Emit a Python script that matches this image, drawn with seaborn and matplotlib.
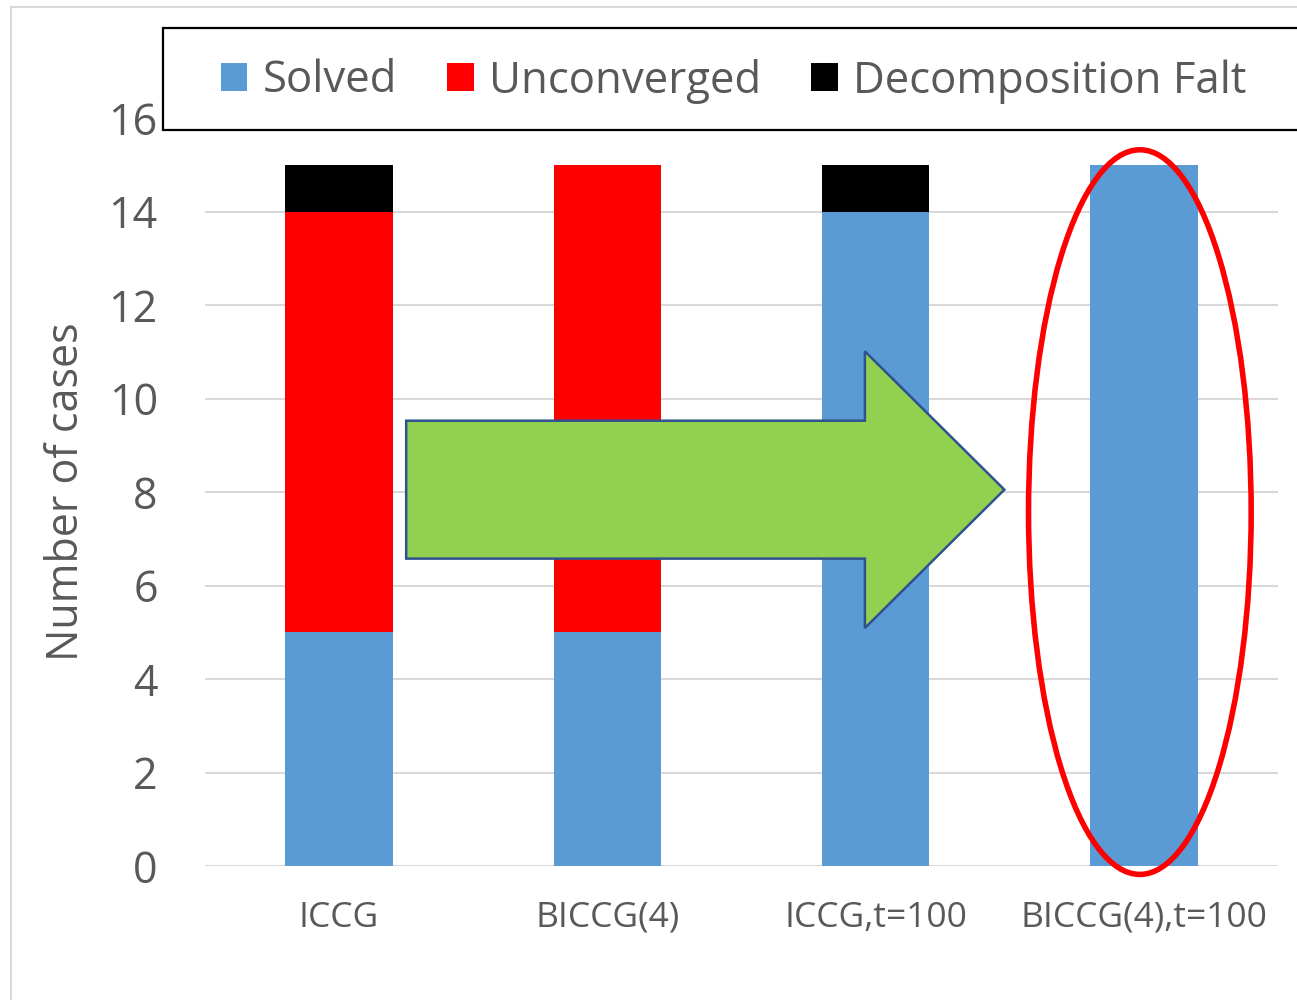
import matplotlib
matplotlib.use("Agg")
import matplotlib.pyplot as plt
import seaborn as sns
import pandas as pd
import numpy as np
from matplotlib.patches import Patch, Rectangle, Ellipse, FancyArrow

# Solver outcomes per method
methods = ["ICCG", "BICCG(4)", "ICCG,t=100", "BICCG(4),t=100"]
solved = [5, 5, 14, 15]
unconverged = [9, 10, 0, 0]
decomposition_fault = [1, 0, 1, 0]

series_names = ["Solved", "Unconverged", "Decomposition Falt"]
series_colors = ["#5B9BD5", "#FF0000", "#000000"]
y_ticks = [0, 2, 4, 6, 8, 10, 12, 14, 16]

sns.set_theme(style="white")
plt.rcParams["font.family"] = ["Open Sans", "DejaVu Sans"]

df = pd.DataFrame({
    "method": methods,
    "solved": solved,
    "unconverged": unconverged,
    "fault": decomposition_fault,
})

fig = plt.figure(figsize=(12.97, 10), dpi=100)
ax = fig.add_axes([205 / 1297, 1 - 866 / 1000, 1073 / 1297, 748 / 1000])

bottoms = np.zeros(len(methods))
for col, color in zip(["solved", "unconverged", "fault"], series_colors):
    sns.barplot(data=df, x="method", y=col, color=color, width=0.4,
                bottom=bottoms, ax=ax, saturation=1, zorder=3,
                linewidth=0)
    bottoms = bottoms + df[col].to_numpy()

ax.set_xlim(-0.5, 3.5)
ax.set_ylim(0, 16)
ax.set_yticks(y_ticks)
ax.set_yticklabels([str(t) for t in y_ticks])
ax.yaxis.grid(True, color="#D9D9D9", linewidth=1.5, zorder=0)
ax.set_axisbelow(True)
for s in ax.spines.values():
    s.set_visible(False)

ax.tick_params(axis="y", length=0, pad=34, labelsize=31, labelcolor="#595959")
ax.tick_params(axis="x", length=0, pad=25, labelsize=25.5, labelcolor="#595959")
ax.set_xlabel("")
ax.set_ylabel("Number of cases", fontsize=31, color="#595959", va="center")
ax.yaxis.set_label_coords(-0.1286, 0.5)

# Improvement arrow and highlight
arrow = FancyArrow(0.25, 8.05, 2.23, 0, width=2.95, head_width=5.92,
                   head_length=0.52, length_includes_head=True,
                   facecolor="#92D050", edgecolor="#2F528F", linewidth=1.8,
                   zorder=5, clip_on=False)
ax.add_patch(arrow)
ring = Ellipse((2.985, 7.57), 0.83, 15.5, facecolor="none",
               edgecolor="#FF0000", linewidth=4, zorder=6, clip_on=False)
ax.add_patch(ring)

# Chart border and legend box
fig.patches.append(Rectangle((11 / 1297, -0.1), 1.2, 0.1 + (1 - 7 / 1000),
                             transform=fig.transFigure, fill=False,
                             edgecolor="#D9D9D9", linewidth=1.5))
fig.patches.append(Rectangle((163 / 1297, 1 - 130 / 1000), 1.2, 102 / 1000,
                             transform=fig.transFigure, facecolor="white",
                             edgecolor="black", linewidth=1.6, zorder=10))

handles = [Patch(facecolor=c, edgecolor="none") for c in series_colors]
leg = fig.legend(handles, series_names, loc="center left",
                 bbox_to_anchor=(221 / 1297, 1 - 81 / 1000), ncol=3,
                 frameon=False, fontsize=31.5, handlelength=0.6,
                 handleheight=0.6, handletextpad=0.35, columnspacing=1.15,
                 borderpad=0, borderaxespad=0)
for t in leg.get_texts():
    t.set_color("#595959")
leg.set_zorder(11)

fig.savefig("out.png", dpi=100)
